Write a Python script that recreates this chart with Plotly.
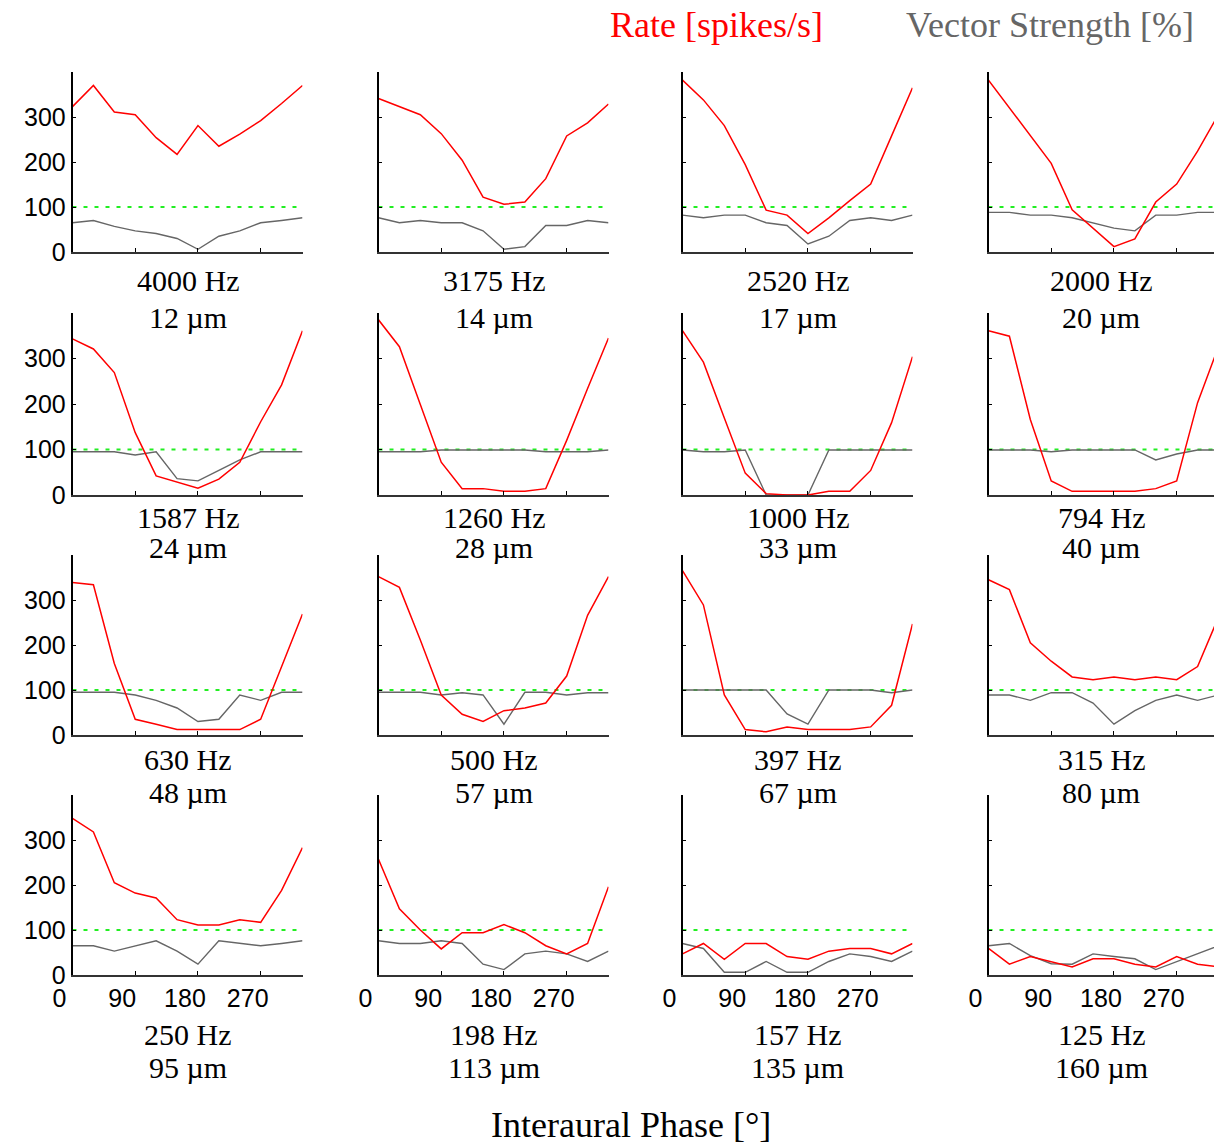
import plotly.graph_objects as go

# ---------------- data ----------------
PHASES = [0, 30, 60, 90, 120, 150, 180, 210, 240, 270, 300, 330]

FREQ_LABELS = ["4000 Hz", "3175 Hz", "2520 Hz", "2000 Hz",
               "1587 Hz", "1260 Hz", "1000 Hz", "794 Hz",
               "630 Hz", "500 Hz", "397 Hz", "315 Hz",
               "250 Hz", "198 Hz", "157 Hz", "125 Hz"]
ITD_LABELS = ["12 µm", "14 µm", "17 µm", "20 µm",
              "24 µm", "28 µm", "33 µm", "40 µm",
              "48 µm", "57 µm", "67 µm", "80 µm",
              "95 µm", "113 µm", "135 µm", "160 µm"]

rate_4000 = [323, 370, 311, 305, 254, 217, 281, 235, 262, 292, 330, 370]
rate_3175 = [341, 323, 305, 263, 204, 122, 106, 111, 163, 258, 287, 329]
rate_2520 = [382, 338, 281, 194, 93, 82, 41, 76, 114, 151, 258, 365]
rate_2000 = [382, 320, 258, 197, 94, 52, 12, 29, 111, 151, 224, 306]
rate_1587 = [343, 321, 269, 137, 42, 28, 15, 35, 72, 161, 242, 361]
rate_1260 = [385, 326, 199, 72, 14, 14, 8, 8, 14, 120, 234, 345]
rate_1000 = [361, 292, 169, 48, 3, 0, 0, 8, 8, 54, 159, 304]
rate_794 = [361, 349, 166, 31, 8, 8, 8, 8, 14, 31, 203, 326]
rate_630 = [339, 334, 159, 35, 24, 12, 12, 12, 12, 35, 152, 269]
rate_500 = [352, 328, 211, 89, 46, 30, 54, 60, 71, 131, 266, 352]
rate_397 = [365, 289, 89, 12, 7, 18, 12, 12, 12, 18, 66, 247]
rate_315 = [345, 323, 205, 164, 129, 123, 129, 123, 129, 123, 152, 262]
rate_250 = [348, 318, 205, 182, 171, 123, 111, 111, 123, 117, 188, 283]
rate_198 = [257, 147, 100, 58, 94, 94, 112, 94, 65, 47, 70, 196]
rate_157 = [47, 70, 35, 70, 70, 41, 35, 53, 59, 59, 47, 70]
rate_125 = [59, 24, 41, 30, 18, 36, 36, 24, 18, 41, 24, 18]

vs_4000 = [65, 70, 57, 47, 41, 30, 6, 35, 47, 65, 70, 76]
vs_3175 = [76, 65, 70, 65, 65, 47, 6, 12, 59, 59, 70, 65]
vs_2520 = [82, 76, 82, 82, 65, 59, 18, 35, 70, 76, 70, 82]
vs_2000 = [88, 88, 82, 82, 76, 65, 53, 47, 82, 82, 88, 88]
vs_1587 = [95, 95, 95, 88, 95, 36, 31, 54, 77, 95, 95, 95]
vs_1260 = [95, 95, 95, 99, 99, 99, 99, 99, 95, 95, 95, 99]
vs_1000 = [99, 95, 95, 99, 0, 0, 0, 99, 99, 99, 99, 99]
vs_794 = [99, 99, 99, 95, 99, 99, 99, 99, 77, 90, 99, 99]
vs_630 = [95, 95, 95, 89, 77, 60, 30, 35, 89, 77, 95, 95]
vs_500 = [95, 95, 95, 89, 94, 89, 24, 95, 95, 89, 94, 94]
vs_397 = [100, 100, 100, 100, 100, 47, 24, 100, 100, 100, 94, 100]
vs_315 = [89, 89, 77, 94, 94, 71, 24, 54, 77, 89, 77, 89]
vs_250 = [65, 65, 53, 65, 76, 53, 24, 76, 70, 65, 70, 76]
vs_198 = [76, 70, 70, 76, 70, 24, 12, 47, 53, 47, 30, 53]
vs_157 = [70, 59, 6, 6, 30, 6, 6, 30, 47, 41, 30, 53]
vs_125 = [65, 70, 43, 25, 24, 47, 41, 36, 12, 30, 48, 65]

RATES = [rate_4000, rate_3175, rate_2520, rate_2000,
         rate_1587, rate_1260, rate_1000, rate_794,
         rate_630, rate_500, rate_397, rate_315,
         rate_250, rate_198, rate_157, rate_125]
VSTRENGTHS = [vs_4000, vs_3175, vs_2520, vs_2000,
              vs_1587, vs_1260, vs_1000, vs_794,
              vs_630, vs_500, vs_397, vs_315,
              vs_250, vs_198, vs_157, vs_125]

REFERENCE_LEVEL = 100
X_TICKS = [0, 90, 180, 270]
Y_TICKS = [0, 100, 200, 300]

# ---------------- layout geometry (pixels) ----------------
W, H = 1214, 1148
COL_LEFT = [72.5, 378.5, 682.5, 988.5]
COL_WIDTH = 230.0
ROW_TOP = [72, 313, 555, 795]
ROW_BOTTOM = [252, 495, 735, 975]
HZ_OFFSET = [28, 22, 24, 59]
UM_OFFSET = [65, 52, 57, 92]

SERIF = "Liberation Serif, Times New Roman, serif"
SANS = "Liberation Sans, Arial, sans-serif"
RED = "#ff0000"
GRAY = "#666666"
GREEN = "#22ee22"

fig = go.Figure()
annotations = []
layout_axes = {}

for i in range(16):
    r, c = divmod(i, 4)
    idx = i + 1
    xname = "x" if idx == 1 else f"x{idx}"
    yname = "y" if idx == 1 else f"y{idx}"
    xkey = "xaxis" if idx == 1 else f"xaxis{idx}"
    ykey = "yaxis" if idx == 1 else f"yaxis{idx}"

    left = COL_LEFT[c]
    right = min(left + COL_WIDTH, W)
    xmax = 330 * (right - left) / COL_WIDTH

    layout_axes[xkey] = dict(
        domain=[left / W, right / W], anchor=yname, automargin=False,
        range=[0, xmax], tickvals=X_TICKS, ticks="inside", ticklen=4,
        tickcolor="black", tickwidth=1,
        showticklabels=(r == 3), ticklabelshift=-13,
        tickfont=dict(family=SANS, size=25, color="black"),
        showline=True, linecolor="#333333", linewidth=2,
        showgrid=False, zeroline=False, fixedrange=True,
    )
    layout_axes[ykey] = dict(
        domain=[1 - ROW_BOTTOM[r] / H, 1 - ROW_TOP[r] / H], anchor=xname,
        automargin=False,
        range=[0, 400], tickvals=Y_TICKS, ticks="inside", ticklen=4,
        tickcolor="black", tickwidth=1,
        showticklabels=(c == 0),
        tickfont=dict(family=SANS, size=25, color="black"),
        showline=True, linecolor="black", linewidth=1.5,
        showgrid=False, zeroline=False, fixedrange=True,
    )

    fig.add_trace(go.Scatter(
        x=[PHASES[0], PHASES[-1]], y=[REFERENCE_LEVEL, REFERENCE_LEVEL],
        mode="lines", line=dict(color=GREEN, width=1.8, dash="4px,7px"),
        xaxis=xname, yaxis=yname, showlegend=False, hoverinfo="skip"))
    fig.add_trace(go.Scatter(
        x=PHASES, y=VSTRENGTHS[i], mode="lines",
        line=dict(color=GRAY, width=1.4),
        xaxis=xname, yaxis=yname, showlegend=False))
    fig.add_trace(go.Scatter(
        x=PHASES, y=RATES[i], mode="lines",
        line=dict(color=RED, width=1.5),
        xaxis=xname, yaxis=yname, showlegend=False))

    cx = (left + right) / 2
    annotations.append(dict(
        x=cx / W, y=1 - (ROW_BOTTOM[r] + HZ_OFFSET[r]) / H,
        xref="paper", yref="paper", text=FREQ_LABELS[i], showarrow=False,
        xanchor="center", yanchor="middle",
        font=dict(family=SERIF, size=30, color="black")))
    annotations.append(dict(
        x=cx / W, y=1 - (ROW_BOTTOM[r] + UM_OFFSET[r]) / H,
        xref="paper", yref="paper", text=ITD_LABELS[i], showarrow=False,
        xanchor="center", yanchor="middle",
        font=dict(family=SERIF, size=30, color="black")))

annotations.append(dict(
    x=716 / W, y=1 - 25 / H, xref="paper", yref="paper",
    text="Rate [spikes/s]", showarrow=False, xanchor="center", yanchor="middle",
    font=dict(family=SERIF, size=36, color=RED)))
annotations.append(dict(
    x=1050 / W, y=1 - 25 / H, xref="paper", yref="paper",
    text="Vector Strength [%]", showarrow=False, xanchor="center", yanchor="middle",
    font=dict(family=SERIF, size=36, color=GRAY)))
annotations.append(dict(
    x=631 / W, y=1 - 1125 / H, xref="paper", yref="paper",
    text="Interaural Phase [°]", showarrow=False, xanchor="center", yanchor="middle",
    font=dict(family=SERIF, size=36, color="black")))

fig.update_layout(
    width=W, height=H,
    margin=dict(l=0, r=0, t=0, b=0, pad=0, autoexpand=False),
    paper_bgcolor="white", plot_bgcolor="white",
    showlegend=False,
    annotations=annotations,
    **layout_axes,
)

fig.write_html(
    "out.html",
    config={"displayModeBar": False},
    post_script="document.body.style.margin='0';document.body.style.overflow='hidden';",
)
